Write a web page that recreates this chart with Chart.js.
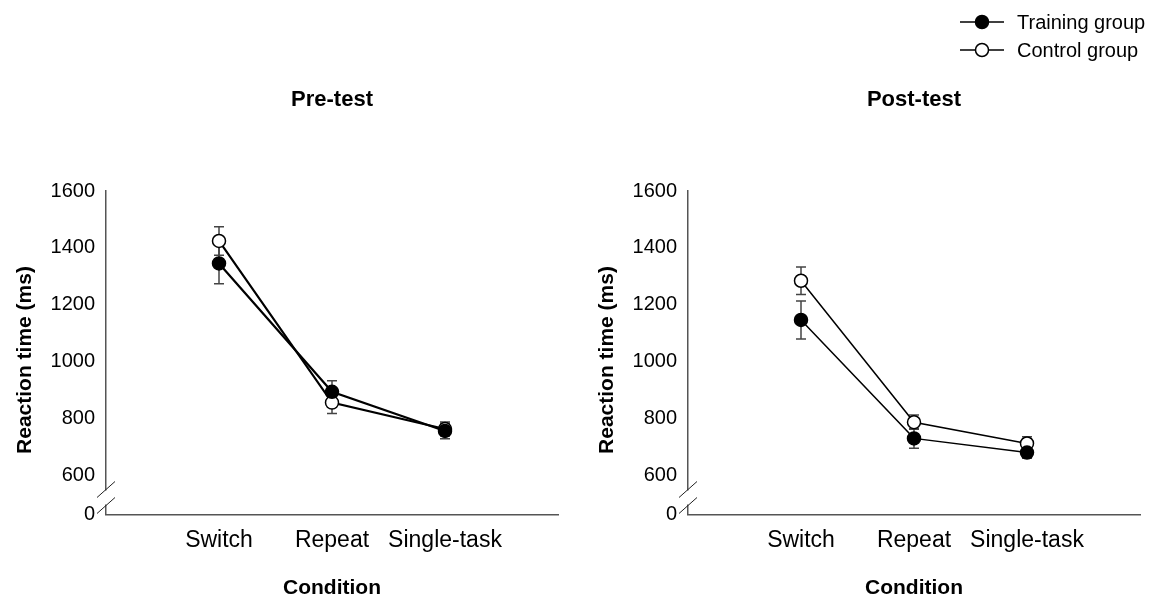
<!DOCTYPE html>
<html>
<head>
<meta charset="utf-8">
<script src="https://cdn.jsdelivr.net/npm/chart.js@4.4.1/dist/chart.umd.min.js"></script>
<style>
  body { margin: 0; background: #fff; }
  #wrap { position: relative; width: 1162px; height: 601px; }
  .panel { position: absolute; top: 0; width: 580px; height: 601px; }
</style>
</head>
<body>
<div id="wrap">
  <div class="panel" style="left:0"><canvas id="pre"></canvas></div>
  <div class="panel" style="left:582px"><canvas id="post"></canvas></div>
</div>
<script>
const conditions = ["Switch", "Repeat", "Single-task"];
const seriesNames = ["Training group", "Control group"];
const yTicks = [600, 800, 1000, 1200, 1400, 1600];
const yBottom = 461; // axis break, labelled "0"

// Pre-test
const preTraining = [1345, 893, 755];
const preTrainingErr = [72, 39, 27];
const preControl = [1424, 855, 762];
const preControlErr = [50, 38, 25];

// Post-test
const postTraining = [1146, 729, 679];
const postTrainingErr = [67, 35, 20];
const postControl = [1284, 786, 711];
const postControlErr = [48, 25, 24];

const FONT = "'Liberation Sans', Arial, sans-serif";
Chart.defaults.font.family = FONT;
Chart.defaults.color = "#000";

const errorBars = {
  id: "errorBars",
  beforeDatasetsDraw(chart) {
    const ctx = chart.ctx, xs = chart.scales.x, ys = chart.scales.y;
    ctx.save();
    ctx.strokeStyle = "#444";
    ctx.lineWidth = 1.5;
    chart.data.datasets.forEach(ds => {
      ds.data.forEach((p, i) => {
        const e = ds.errors[i];
        const x = xs.getPixelForValue(p.x);
        const y1 = ys.getPixelForValue(p.y - e), y2 = ys.getPixelForValue(p.y + e);
        ctx.beginPath();
        ctx.moveTo(x, y1); ctx.lineTo(x, y2);
        ctx.moveTo(x - 5, y1); ctx.lineTo(x + 5, y1);
        ctx.moveTo(x - 5, y2); ctx.lineTo(x + 5, y2);
        ctx.stroke();
      });
    });
    ctx.restore();
  }
};

const axisBreak = {
  id: "axisBreak",
  afterDraw(chart) {
    const ctx = chart.ctx, a = chart.chartArea;
    const x = a.left, b = a.bottom;
    ctx.save();
    ctx.fillStyle = "#fff";
    ctx.fillRect(x - 2, b - 24, 4, 14);
    ctx.strokeStyle = "#222";
    ctx.lineWidth = 1;
    [b - 25, b - 9].forEach(yc => {
      ctx.beginPath();
      ctx.moveTo(x - 9, yc + 8);
      ctx.lineTo(x + 9, yc - 8);
      ctx.stroke();
    });
    ctx.restore();
  }
};

// panel title over the plot area and the y-axis title
const panelText = {
  id: "panelText",
  afterDraw(chart) {
    const ctx = chart.ctx, a = chart.chartArea;
    const opts = chart.options.plugins.panelText;
    ctx.save();
    ctx.fillStyle = "#000";
    ctx.font = "bold 22px " + FONT;
    ctx.textAlign = "center";
    ctx.textBaseline = "middle";
    ctx.fillText(opts.title, (a.left + a.right) / 2, 100);
    ctx.font = "bold 21px " + FONT;
    ctx.translate(25, 360);
    ctx.rotate(-Math.PI / 2);
    ctx.fillText(opts.yTitle, 0, 0);
    ctx.restore();
  }
};

const lineLegend = {
  id: "lineLegend",
  afterDraw(chart) {
    if (!chart.options.plugins.lineLegend.show) return;
    const ctx = chart.ctx;
    const x0 = 378, rows = [22, 50];
    ctx.save();
    chart.data.datasets.forEach((ds, i) => {
      const y = rows[i];
      ctx.strokeStyle = "#000";
      ctx.lineWidth = 1.5;
      ctx.beginPath();
      ctx.moveTo(x0, y); ctx.lineTo(x0 + 44, y);
      ctx.stroke();
      ctx.beginPath();
      ctx.arc(x0 + 22, y, 6.5, 0, Math.PI * 2);
      ctx.fillStyle = ds.pointBackgroundColor;
      ctx.fill();
      ctx.stroke();
      ctx.fillStyle = "#000";
      ctx.font = "20px " + FONT;
      ctx.textBaseline = "middle";
      ctx.fillText(ds.label, x0 + 57, y + 1);
    });
    ctx.restore();
  }
};

function points(vals) {
  return vals.map((v, i) => ({ x: i + 1, y: v }));
}

function makeChart(id, title, training, trainingErr, control, controlErr, lineW, showLegend) {
  const fills = ["#000", "#fff"];
  const sets = [[training, trainingErr], [control, controlErr]];
  new Chart(id, {
    type: "line",
    data: {
      datasets: sets.map((s, i) => ({
        label: seriesNames[i],
        data: points(s[0]),
        errors: s[1],
        borderColor: "#000",
        borderWidth: lineW,
        pointRadius: 6.5,
        pointBorderWidth: 1.5,
        pointBorderColor: "#000",
        pointBackgroundColor: fills[i],
        tension: 0
      }))
    },
    options: {
      responsive: true,
      maintainAspectRatio: false,
      animation: false,
      layout: { padding: { left: 0, right: 22, top: 191, bottom: 0 } },
      plugins: {
        legend: { display: false },
        tooltip: { enabled: false },
        title: { display: false },
        lineLegend: { show: showLegend },
        panelText: { title: title, yTitle: "Reaction time (ms)" }
      },
      scales: {
        x: {
          type: "linear",
          min: 0, max: 4,
          grid: { display: false, drawTicks: false },
          border: { display: true, color: "#555", width: 1.5 },
          ticks: {
            stepSize: 1,
            padding: 12,
            font: { size: 23 },
            maxRotation: 0,
            autoSkip: false,
            callback: v => conditions[v - 1] || ""
          },
          title: { display: true, text: "Condition", font: { size: 21, weight: "bold" }, padding: { top: 0, bottom: 0 } },
          afterFit(s) { s.height = 86.5; }
        },
        y: {
          min: yBottom, max: 1600,
          grid: { display: false, drawTicks: false },
          border: { display: true, color: "#555", width: 1.5 },
          afterBuildTicks(s) {
            s.ticks = [yBottom].concat(yTicks).map(v => ({ value: v }));
          },
          ticks: {
            padding: 11,
            font: { size: 20 },
            callback: v => (v === yBottom ? "0" : v)
          },
          afterFit(s) { s.width = 106; }
        }
      }
    },
    plugins: [errorBars, axisBreak, panelText, lineLegend]
  });
}

makeChart("pre", "Pre-test", preTraining, preTrainingErr, preControl, preControlErr, 2.2, false);
makeChart("post", "Post-test", postTraining, postTrainingErr, postControl, postControlErr, 1.5, true);
</script>
</body>
</html>
